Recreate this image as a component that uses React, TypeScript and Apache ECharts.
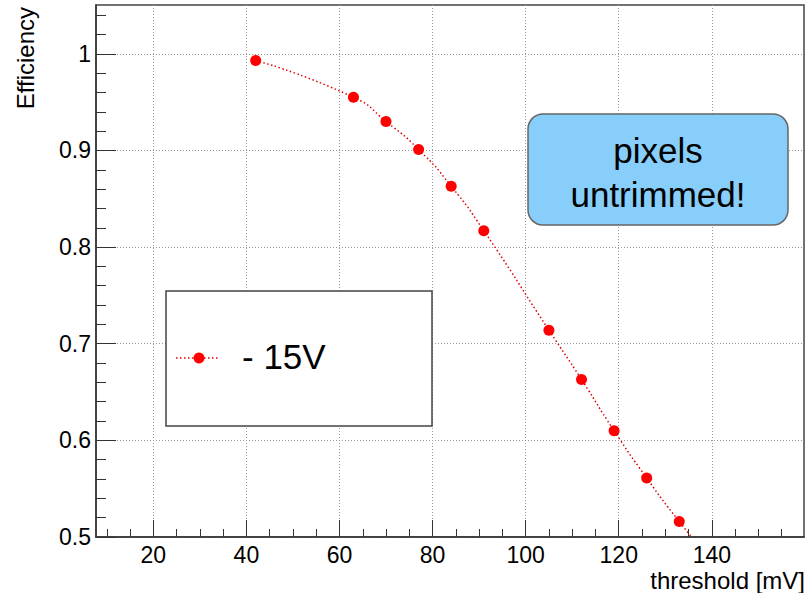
import React, { useEffect, useRef } from 'react';
import * as echarts from 'echarts';

// ---- data ----
const thresholds = [42, 63, 70, 77, 84, 91, 105, 112, 119, 126, 133, 140];
const efficiency = [0.993, 0.955, 0.930, 0.901, 0.863, 0.817, 0.714, 0.663, 0.610, 0.561, 0.516, 0.475];
const seriesName = '- 15V';

const xMajorTicks = [20, 40, 60, 80, 100, 120, 140];
const xMinorTicks = [10, 15, 25, 30, 35, 45, 50, 55, 65, 70, 75, 85, 90, 95, 105, 110, 115, 125, 130, 135, 145, 150, 155];
const yMajorTicks = [0.5, 0.6, 0.7, 0.8, 0.9, 1];
const yMinorTicks = [0.52, 0.54, 0.56, 0.58, 0.62, 0.64, 0.66, 0.68, 0.72, 0.74, 0.76, 0.78, 0.82, 0.84, 0.86, 0.88, 0.92, 0.94, 0.96, 0.98, 1.02, 1.04];

const xTitle = 'threshold [mV]';
const yTitle = 'Efficiency';
const noteLines = ['pixels', 'untrimmed!'];

const X_MIN = 7.69;
const X_MAX = 159.8;
const Y_MIN = 0.5;
const Y_MAX = 1.0505;

const FONT = '"Liberation Sans", Arial, Helvetica, sans-serif';
const AXIS_COLOR = '#333';
const GRID_COLOR = '#9a9a9a';

export default function App() {
  const ref = useRef<HTMLDivElement>(null);

  useEffect(() => {
    if (!ref.current) return;
    const chart = echarts.init(ref.current, undefined, { renderer: 'svg' });

    const tickLine = { color: AXIS_COLOR, width: 1 };

    chart.setOption({
      animation: false,
      backgroundColor: '#ffffff',
      grid: {
        left: 96,
        right: 2,
        top: 5,
        bottom: 56,
        show: true,
        borderColor: '#444',
        borderWidth: 1.5,
        backgroundColor: 'transparent',
      },
      xAxis: [
        {
          type: 'value',
          min: X_MIN,
          max: X_MAX,
          position: 'bottom',
          axisLine: { show: true, onZero: false, lineStyle: { color: AXIS_COLOR, width: 1.5 } },
          axisTick: { show: true, inside: true, length: 17, customValues: xMajorTicks, lineStyle: tickLine },
          axisLabel: {
            show: true,
            customValues: xMajorTicks,
            margin: 6,
            fontSize: 23,
            color: '#000',
            fontFamily: FONT,
            formatter: (v: number) => String(v),
          },
          splitLine: { show: true, lineStyle: { color: GRID_COLOR, type: [1, 2], width: 1 } },
          minorTick: { show: false },
        },
        {
          type: 'value',
          min: X_MIN,
          max: X_MAX,
          position: 'bottom',
          axisLine: { show: false, onZero: false },
          axisTick: { show: true, inside: true, length: 8, customValues: xMinorTicks, lineStyle: tickLine },
          axisLabel: { show: false },
          splitLine: { show: false },
        },
      ],
      yAxis: [
        {
          type: 'value',
          min: Y_MIN,
          max: Y_MAX,
          position: 'left',
          axisLine: { show: true, onZero: false, lineStyle: { color: AXIS_COLOR, width: 1.5 } },
          axisTick: { show: true, inside: true, length: 20, customValues: yMajorTicks, lineStyle: tickLine },
          axisLabel: {
            show: true,
            customValues: yMajorTicks,
            margin: 5,
            fontSize: 23,
            color: '#000',
            fontFamily: FONT,
            formatter: (v: number) => (Math.abs(v - 1) < 1e-9 ? '1' : v.toFixed(1)),
          },
          splitLine: { show: true, lineStyle: { color: GRID_COLOR, type: [1, 2], width: 1 } },
        },
        {
          type: 'value',
          min: Y_MIN,
          max: Y_MAX,
          position: 'left',
          axisLine: { show: false, onZero: false },
          axisTick: { show: true, inside: true, length: 10, customValues: yMinorTicks, lineStyle: tickLine },
          axisLabel: { show: false },
          splitLine: { show: false },
        },
      ],
      series: [
        {
          name: seriesName,
          type: 'line',
          xAxisIndex: 0,
          yAxisIndex: 0,
          data: thresholds.map((x, i) => [x, efficiency[i]]),
          smooth: 0.6,
          clip: true,
          symbol: 'circle',
          symbolSize: 11,
          showAllSymbol: true,
          itemStyle: { color: '#ff0000' },
          lineStyle: { color: '#e00000', width: 1.5, type: [1.5, 2.5] },
          z: 5,
        },
      ],
      graphic: [
        // y axis title
        {
          type: 'text',
          x: 25,
          y: 7,
          rotation: Math.PI / 2,
          style: {
            text: yTitle,
            align: 'right',
            verticalAlign: 'middle',
            fontSize: 24,
            fontFamily: FONT,
            fill: '#000',
          },
        },
        // x axis title
        {
          type: 'text',
          x: 805,
          y: 580,
          style: {
            text: xTitle,
            align: 'right',
            verticalAlign: 'middle',
            fontSize: 24,
            fontFamily: FONT,
            fill: '#000',
          },
        },
        // legend box
        {
          type: 'rect',
          shape: { x: 166, y: 291, width: 266, height: 135 },
          style: { fill: '#ffffff', stroke: '#444', lineWidth: 1.5 },
          z: 10,
        },
        {
          type: 'line',
          shape: { x1: 176, y1: 358, x2: 220, y2: 358 },
          style: { stroke: '#e00000', lineWidth: 1.5, lineDash: [1.5, 2.5] },
          z: 11,
        },
        {
          type: 'circle',
          shape: { cx: 199, cy: 358, r: 5.5 },
          style: { fill: '#ff0000' },
          z: 12,
        },
        {
          type: 'text',
          x: 242,
          y: 356,
          style: {
            text: seriesName,
            align: 'left',
            verticalAlign: 'middle',
            fontSize: 35,
            fontFamily: FONT,
            fill: '#000',
          },
          z: 12,
        },
        // note box
        {
          type: 'rect',
          shape: { x: 528, y: 114, width: 260, height: 111, r: 15 },
          style: { fill: '#87cefa', stroke: '#666', lineWidth: 1.5 },
          z: 10,
        },
        {
          type: 'text',
          x: 658,
          y: 150,
          style: {
            text: noteLines[0],
            align: 'center',
            verticalAlign: 'middle',
            fontSize: 35,
            fontFamily: FONT,
            fill: '#000',
          },
          z: 12,
        },
        {
          type: 'text',
          x: 658,
          y: 194,
          style: {
            text: noteLines[1],
            align: 'center',
            verticalAlign: 'middle',
            fontSize: 35,
            fontFamily: FONT,
            fill: '#000',
          },
          z: 12,
        },
      ],
    });

    return () => {
      chart.dispose();
    };
  }, []);

  return (
    <div
      ref={ref}
      style={{ position: 'absolute', left: 0, top: 0, width: 806, height: 593, background: '#fff' }}
    />
  );
}
